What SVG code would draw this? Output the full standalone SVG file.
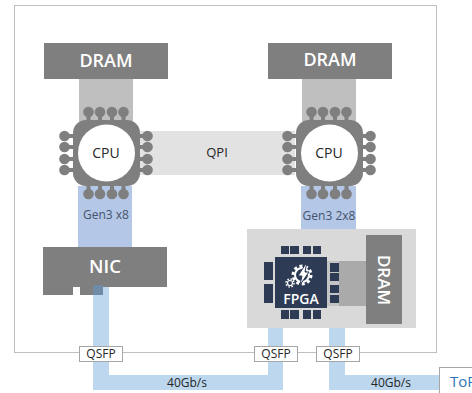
<svg xmlns="http://www.w3.org/2000/svg" width="472" height="393" viewBox="0 0 472 393">
<style>
text{font-family:"Open Sans","Noto Sans",sans-serif;text-anchor:middle}
.w{fill:#fff;font-weight:600}
.d{fill:#44546a;font-size:12px}
.k{fill:#262626;font-size:12px}
.g{fill:#7f7f7f}
.link{fill:#bdd7ee}
.gen{fill:#b4c7e7}
.mem{fill:#bfbfbf}
.q{fill:#fff;stroke:#a6a6a6;stroke-width:1}
.p{fill:#2d3b55}
</style>
<defs>
<g id="chip">
<g class="g">
<circle cx="-18" cy="-41" r="5.300"/><circle cx="-6.500" cy="-41" r="5.300"/><circle cx="5.500" cy="-41" r="5.300"/><circle cx="17" cy="-41" r="5.300"/>
<circle cx="-18" cy="41" r="5.300"/><circle cx="-6.500" cy="41" r="5.300"/><circle cx="5.500" cy="41" r="5.300"/><circle cx="17" cy="41" r="5.300"/>
<circle cx="-42" cy="-17" r="5.300"/><circle cx="-42" cy="-6" r="5.300"/><circle cx="-42" cy="6" r="5.300"/><circle cx="-42" cy="17" r="5.300"/>
<circle cx="41" cy="-17" r="5.300"/><circle cx="41" cy="-6" r="5.300"/><circle cx="41" cy="6" r="5.300"/><circle cx="41" cy="17" r="5.300"/>
<rect x="-20" y="-41" width="4" height="10"/><rect x="-8.500" y="-41" width="4" height="10"/><rect x="3.500" y="-41" width="4" height="10"/><rect x="15" y="-41" width="4" height="10"/>
<rect x="-20" y="31" width="4" height="10"/><rect x="-8.500" y="31" width="4" height="10"/><rect x="3.500" y="31" width="4" height="10"/><rect x="15" y="31" width="4" height="10"/>
<rect x="-42" y="-19" width="10" height="4"/><rect x="-42" y="-8" width="10" height="4"/><rect x="-42" y="4" width="10" height="4"/><rect x="-42" y="15" width="10" height="4"/>
<rect x="32" y="-19" width="10" height="4"/><rect x="32" y="-8" width="10" height="4"/><rect x="32" y="4" width="10" height="4"/><rect x="32" y="15" width="10" height="4"/>
<rect x="-33.500" y="-33" width="67" height="66" rx="13"/>
</g>
<circle cx="0" cy="0" r="28.500" fill="#fff"/>
</g>
</defs>
<rect x="14.500" y="5.500" width="422" height="347" fill="#fff" stroke="#bfbfbf"/>
<g id="connectors">
<rect class="mem" x="79" y="78" width="54" height="44"/>
<rect class="mem" x="302" y="78" width="54" height="44"/>
<rect x="135" y="131" width="160" height="44" fill="#e2e2e2"/>
<rect class="gen" x="78" y="186" width="54" height="62"/>
<rect class="gen" x="301" y="186" width="55" height="44"/>
<path class="link" d="M93 287H109V375H268V327H283V390H93Z"/>
<path class="link" d="M329 327H345V375H440V390H329Z"/>
</g>
<g id="dram-left"><rect class="g" x="44" y="43" width="124" height="36"/><text class="w" x="106" y="67" font-size="18">DRAM</text></g>
<g id="dram-right"><rect class="g" x="268" y="43" width="124" height="36"/><text class="w" x="330" y="66" font-size="18">DRAM</text></g>
<g id="cpu-left"><use href="#chip" x="106.500" y="153"/><text class="k" x="106" y="158" style="font-size:14px">CPU</text></g>
<g id="cpu-right"><use href="#chip" x="329.500" y="153"/><text class="k" x="329" y="158" style="font-size:14px">CPU</text></g>
<g id="qpi"><text class="k" x="217" y="157" style="font-size:13px">QPI</text></g>
<g id="gen3-left"><text class="d" x="106" y="219">Gen3 x8</text></g>
<g id="gen3-right"><text class="d" x="329" y="220">Gen3 2x8</text></g>
<g id="nic"><rect class="g" x="43" y="247" width="124" height="40"/><rect class="g" x="43" y="287" width="30" height="8"/><rect class="g" x="80" y="287" width="23" height="8"/><rect x="93" y="285" width="10" height="10" fill="#6f8ba8"/><text class="w" x="105" y="273" font-size="18.500">NIC</text></g>
<g id="fpga-board">
<rect x="247" y="229" width="169" height="99" fill="#d9d9d9"/>
<rect x="327" y="261" width="39" height="45" fill="#aaa"/>
<rect x="327" y="261" width="12" height="45" fill="#c4c4c4"/>
<g class="p">
<rect x="281" y="246" width="8" height="8"/><rect x="290" y="246" width="9" height="8"/><rect x="303" y="246" width="8" height="8"/><rect x="313" y="246" width="8" height="8"/>
<rect x="281" y="310" width="8" height="9"/><rect x="290" y="310" width="9" height="9"/><rect x="303" y="310" width="8" height="9"/><rect x="313" y="310" width="8" height="9"/>
<rect x="264" y="262" width="9" height="18"/><rect x="264" y="284" width="9" height="19"/>
<rect x="330" y="263" width="9" height="9"/><rect x="330" y="273" width="9" height="8"/><rect x="330" y="285" width="9" height="8"/><rect x="330" y="295" width="9" height="8"/>
<rect x="275" y="257" width="52" height="51"/>
</g>
<circle cx="302" cy="275" r="7" fill="none" stroke="#fff" stroke-width="2"/>
<circle cx="302" cy="275" r="9" fill="none" stroke="#fff" stroke-width="3" stroke-dasharray="3 2.650"/>
<path d="M307 262L298 276H302L300 285L309 272H305Z" fill="#fff" stroke="#2d3b55" stroke-width="1"/>
<circle cx="290" cy="283" r="2.500" fill="none" stroke="#fff" stroke-width="1.200"/>
<circle cx="290" cy="283" r="4" fill="none" stroke="#fff" stroke-width="1.500" stroke-dasharray="1.500 1.640"/>
<text class="w" x="301" y="304" font-size="14">FPGA</text>
<rect class="g" x="366" y="235" width="36" height="89"/>
<text class="w" transform="translate(378 280) rotate(90)" x="0" y="0" font-size="17">DRAM</text>
</g>
<g id="qsfp-1"><rect class="q" x="79.500" y="346.500" width="43" height="15"/><text class="k" x="101" y="358" style="font-size:12px">QSFP</text></g>
<g id="qsfp-2"><rect class="q" x="254.500" y="346.500" width="43" height="15"/><text class="k" x="276" y="358" style="font-size:12px">QSFP</text></g>
<g id="qsfp-3"><rect class="q" x="316.500" y="346.500" width="43" height="15"/><text class="k" x="338" y="358" style="font-size:12px">QSFP</text></g>
<g id="rate-1"><text class="k" x="187" y="387">40Gb/s</text></g>
<g id="rate-2"><text class="k" x="391" y="387">40Gb/s</text></g>
<g id="tor"><rect x="439.500" y="367.500" width="40" height="30" fill="#fff" stroke="#a6a6a6"/><text x="450" y="387" font-size="15" fill="#2e75b6" style="text-anchor:start">ToR</text></g>
</svg>
